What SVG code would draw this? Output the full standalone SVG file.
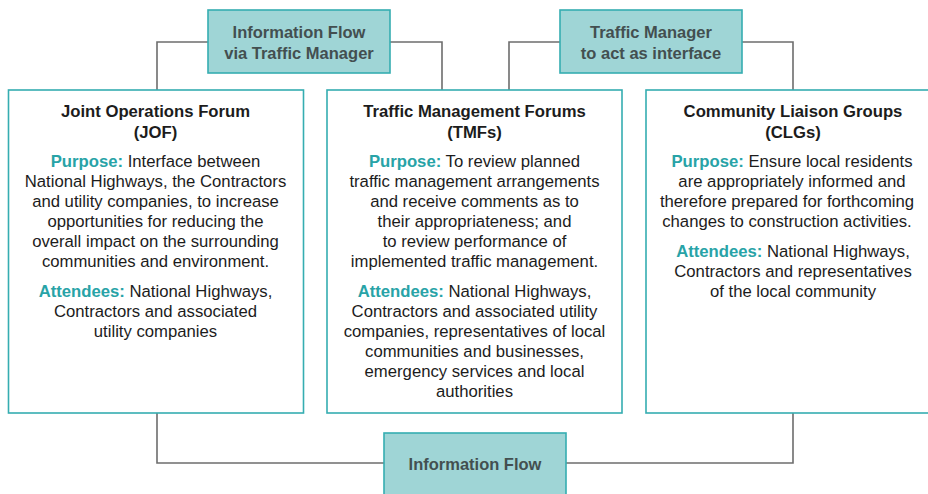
<svg xmlns="http://www.w3.org/2000/svg" width="928" height="494" viewBox="0 0 928 494">
<style>
.conn{fill:none;stroke:#6d6d6d;stroke-width:1.6}
.hub{fill:#9fd5d6;stroke:#35adb1;stroke-width:1.6}
.box{fill:#ffffff;stroke:#35adb1;stroke-width:1.6}
.hubt{font-family:"Liberation Sans",Arial,sans-serif;font-size:16.5px;font-weight:bold;fill:#434f50;text-anchor:middle}
.t{font-family:"Liberation Sans",Arial,sans-serif;font-size:16.7px;fill:#1c1c1c;text-anchor:middle}
.ttl{font-weight:bold}
.k{font-weight:bold;fill:#28a3a7}
</style>
<rect x="0" y="0" width="928" height="494" fill="#ffffff"/>
<g id="connectors">
<path class="conn" d="M157,90 V42 H208"/>
<path class="conn" d="M390,42 H442 V90"/>
<path class="conn" d="M509,90 V42 H560"/>
<path class="conn" d="M742,42 H793 V90"/>
<path class="conn" d="M157,413 V463 H384"/>
<path class="conn" d="M566,463 H793 V413"/>
</g>
<g id="hub-info-tm">
<rect class="hub" x="208" y="10" width="182" height="63"/>
<text class="hubt" x="299" y="38">Information Flow</text>
<text class="hubt" x="299" y="59">via Traffic Manager</text>
</g>
<g id="hub-tm-interface">
<rect class="hub" x="560" y="10" width="182" height="63"/>
<text class="hubt" x="651" y="38">Traffic Manager</text>
<text class="hubt" x="651" y="59">to act as interface</text>
</g>
<g id="hub-info">
<rect class="hub" x="384" y="433" width="182" height="70"/>
<text class="hubt" x="475" y="470">Information Flow</text>
</g>
<g id="jof">
<rect class="box" x="8.5" y="90" width="295" height="323"/>
<text class="t ttl" x="155.5" y="117">Joint Operations Forum</text>
<text class="t ttl" x="155.5" y="138">(JOF)</text>
<text class="t" x="155.5" y="167"><tspan class="k">Purpose:</tspan> Interface between</text>
<text class="t" x="155.5" y="187">National Highways, the Contractors</text>
<text class="t" x="155.5" y="207">and utility companies, to increase</text>
<text class="t" x="155.5" y="227">opportunities for reducing the</text>
<text class="t" x="155.5" y="247">overall impact on the surrounding</text>
<text class="t" x="155.5" y="267">communities and environment.</text>
<text class="t" x="155.5" y="297"><tspan class="k">Attendees:</tspan> National Highways,</text>
<text class="t" x="155.5" y="317">Contractors and associated</text>
<text class="t" x="155.5" y="337">utility companies</text>
</g>
<g id="tmf">
<rect class="box" x="327" y="90" width="295" height="323"/>
<text class="t ttl" x="474.5" y="117">Traffic Management Forums</text>
<text class="t ttl" x="474.5" y="138">(TMFs)</text>
<text class="t" x="474.5" y="167"><tspan class="k">Purpose:</tspan> To review planned</text>
<text class="t" x="474.5" y="187">traffic management arrangements</text>
<text class="t" x="474.5" y="207">and receive comments as to</text>
<text class="t" x="474.5" y="227">their appropriateness; and</text>
<text class="t" x="474.5" y="247">to review performance of</text>
<text class="t" x="474.5" y="267">implemented traffic management.</text>
<text class="t" x="474.5" y="297"><tspan class="k">Attendees:</tspan> National Highways,</text>
<text class="t" x="474.5" y="317">Contractors and associated utility</text>
<text class="t" x="474.5" y="337">companies, representatives of local</text>
<text class="t" x="474.5" y="357">communities and businesses,</text>
<text class="t" x="474.5" y="377">emergency services and local</text>
<text class="t" x="474.5" y="397">authorities</text>
</g>
<g id="clg">
<rect class="box" x="646" y="90" width="300" height="323"/>
<text class="t ttl" x="793" y="117">Community Liaison Groups</text>
<text class="t ttl" x="793" y="138">(CLGs)</text>
<text class="t" x="792" y="167"><tspan class="k">Purpose:</tspan> Ensure local residents</text>
<text class="t" x="792" y="187">are appropriately informed and</text>
<text class="t" x="787" y="207">therefore prepared for forthcoming</text>
<text class="t" x="787" y="227">changes to construction activities.</text>
<text class="t" x="793" y="257"><tspan class="k">Attendees:</tspan> National Highways,</text>
<text class="t" x="793" y="277">Contractors and representatives</text>
<text class="t" x="793" y="297">of the local community</text>
</g>
</svg>
